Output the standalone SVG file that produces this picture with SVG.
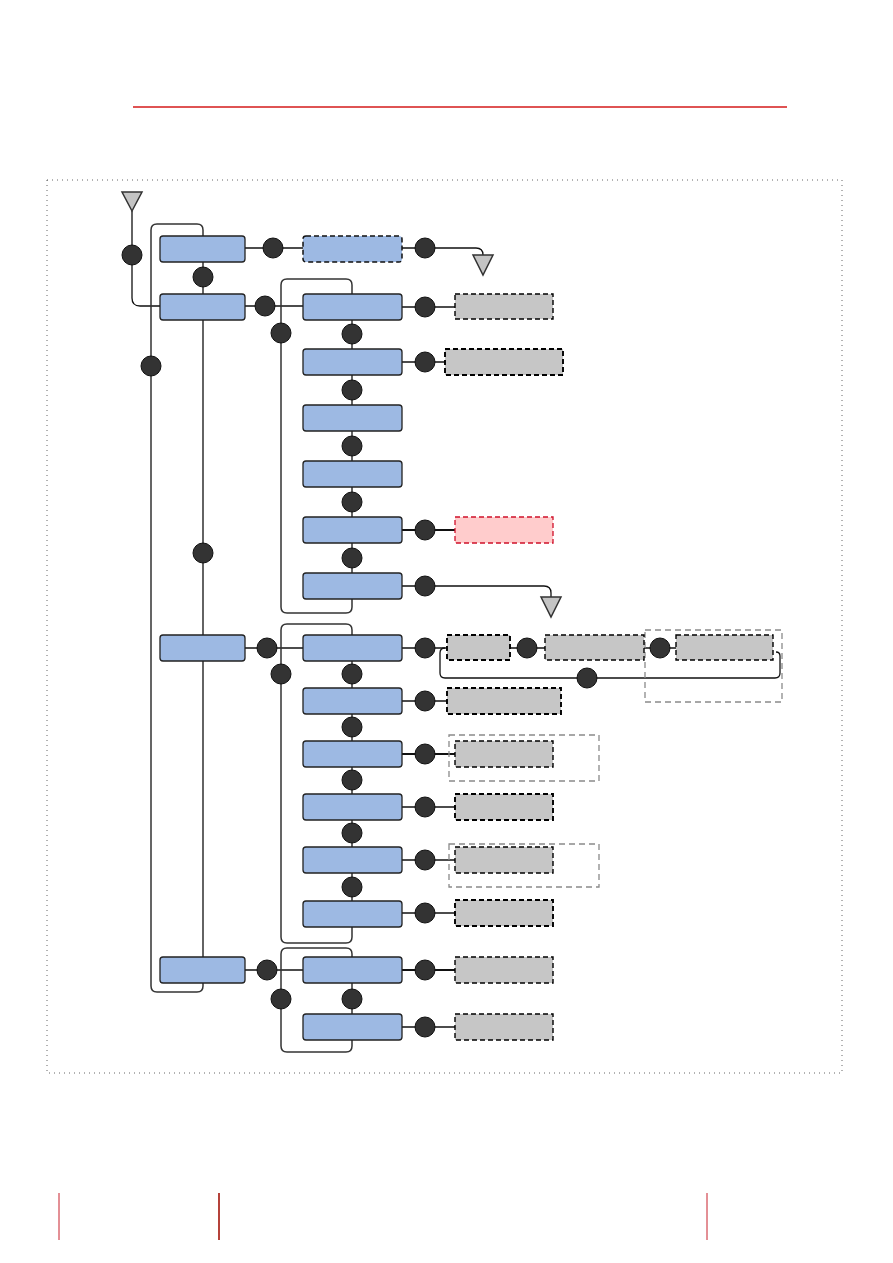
<svg xmlns="http://www.w3.org/2000/svg" width="893" height="1263" viewBox="0 0 893 1263">
<style>
.bx{fill:#9db9e3;stroke:#222;stroke-width:1.3}
.bxd{fill:#9db9e3;stroke:#111;stroke-width:1.5;stroke-dasharray:5 3}
.gr{fill:#c6c6c6;stroke:#000;stroke-width:1.4;stroke-dasharray:5 3}
.grk{fill:#c6c6c6;stroke:#000;stroke-width:1.9;stroke-dasharray:5 3}
.pk{fill:#ffcccc;stroke:#d0102a;stroke-width:1.3;stroke-dasharray:5 3}
.og{fill:none;stroke:#8a8a8a;stroke-width:1.3;stroke-dasharray:6 4}
.ln{fill:none;stroke:#111;stroke-width:1.3}
.lt{fill:none;stroke:#111;stroke-width:2.2}
.lp{fill:none;stroke:#333;stroke-width:1.5}
.c{fill:#333;stroke:#111;stroke-width:1}
.tri{fill:#c4c4c4;stroke:#333;stroke-width:1.5}
</style>
<rect width="893" height="1263" fill="#fff"/>
<line x1="133" y1="107" x2="787" y2="107" stroke="#d41a1a" stroke-width="1.3"/>
<line x1="59" y1="1193" x2="59" y2="1240" stroke="#c8202c" stroke-width="1"/>
<line x1="219" y1="1193" x2="219" y2="1240" stroke="#b5423a" stroke-width="2"/>
<line x1="707" y1="1193" x2="707" y2="1240" stroke="#c8202c" stroke-width="1"/>
<rect x="47" y="180" width="795" height="893" fill="none" stroke="#666" stroke-width="1" stroke-dasharray="1 4"/>

<g id="connectors">
<path class="ln" d="M132 211 V298 Q132 306 140 306 H160"/>
<path class="ln" d="M245 248 H303"/>
<path class="ln" d="M402 248 H476 Q483 248 483 255"/>
<path class="ln" d="M203 261 V294"/>
<path class="lp" d="M203 236 V230 Q203 224 197 224 H157 Q151 224 151 230 V986 Q151 992 157 992 H197 Q203 992 203 986 V983"/>
<path class="ln" d="M203 319 V635 M203 660 V957"/>
<path class="ln" d="M245 306 H303"/>
<path class="lp" d="M352 294 V285 Q352 279 346 279 H287 Q281 279 281 285 V607 Q281 613 287 613 H346 Q352 613 352 607 V599"/>
<path class="ln" d="M352 319 V573"/>
<path class="ln" d="M402 307 H455"/>
<path class="ln" d="M402 362 H445"/>
<path class="lt" d="M402 530 H455"/>
<path class="ln" d="M402 586 H544 Q551 586 551 593 V597"/>
<path class="ln" d="M245 648 H303"/>
<path class="lp" d="M352 635 V630 Q352 624 346 624 H287 Q281 624 281 630 V937 Q281 943 287 943 H346 Q352 943 352 937 V926"/>
<path class="ln" d="M352 660 V901"/>
<path class="ln" d="M402 648 H447 M510 648 H545 M644 648 H676"/>
<path class="ln" d="M776 652 Q780 652 780 656 V673 Q780 678 775 678 H445 Q440 678 440 673 V653 Q440 648 445 648"/>
<path class="ln" d="M402 701 H447"/>
<path class="lt" d="M402 754 H455"/>
<path class="ln" d="M402 807 H455"/>
<path class="ln" d="M402 860 H455"/>
<path class="ln" d="M402 913 H455"/>
<path class="ln" d="M245 970 H303"/>
<path class="lp" d="M352 957 V954 Q352 948 346 948 H287 Q281 948 281 954 V1046 Q281 1052 287 1052 H346 Q352 1052 352 1046 V1040"/>
<path class="ln" d="M352 983 V1014"/>
<path class="lt" d="M402 970 H455"/>
<path class="ln" d="M402 1027 H455"/>
</g>

<g id="triangles">
<polygon class="tri" points="122,192 142,192 132,211"/>
<polygon class="tri" points="473,255 493,255 483,275"/>
<polygon class="tri" points="541,597 561,597 551,617"/>
</g>

<g id="circles">
<circle class="c" cx="132" cy="255" r="10"/>
<circle class="c" cx="273" cy="248" r="10"/>
<circle class="c" cx="425" cy="248" r="10"/>
<circle class="c" cx="203" cy="277" r="10"/>
<circle class="c" cx="151" cy="366" r="10"/>
<circle class="c" cx="203" cy="553" r="10"/>
<circle class="c" cx="265" cy="306" r="10"/>
<circle class="c" cx="281" cy="333" r="10"/>
<circle class="c" cx="352" cy="334" r="10"/>
<circle class="c" cx="352" cy="390" r="10"/>
<circle class="c" cx="352" cy="446" r="10"/>
<circle class="c" cx="352" cy="502" r="10"/>
<circle class="c" cx="352" cy="558" r="10"/>
<circle class="c" cx="425" cy="307" r="10"/>
<circle class="c" cx="425" cy="362" r="10"/>
<circle class="c" cx="425" cy="530" r="10"/>
<circle class="c" cx="425" cy="586" r="10"/>
<circle class="c" cx="267" cy="648" r="10"/>
<circle class="c" cx="281" cy="674" r="10"/>
<circle class="c" cx="352" cy="674" r="10"/>
<circle class="c" cx="352" cy="727" r="10"/>
<circle class="c" cx="352" cy="780" r="10"/>
<circle class="c" cx="352" cy="833" r="10"/>
<circle class="c" cx="352" cy="887" r="10"/>
<circle class="c" cx="425" cy="648" r="10"/>
<circle class="c" cx="527" cy="648" r="10"/>
<circle class="c" cx="660" cy="648" r="10"/>
<circle class="c" cx="587" cy="678" r="10"/>
<circle class="c" cx="425" cy="701" r="10"/>
<circle class="c" cx="425" cy="754" r="10"/>
<circle class="c" cx="425" cy="807" r="10"/>
<circle class="c" cx="425" cy="860" r="10"/>
<circle class="c" cx="425" cy="913" r="10"/>
<circle class="c" cx="267" cy="970" r="10"/>
<circle class="c" cx="281" cy="999" r="10"/>
<circle class="c" cx="352" cy="999" r="10"/>
<circle class="c" cx="425" cy="970" r="10"/>
<circle class="c" cx="425" cy="1027" r="10"/>
</g>

<g id="level1">
<rect id="nA" class="bx" x="160" y="236" width="85" height="26" rx="3"/>
<rect id="nB" class="bx" x="160" y="294" width="85" height="26" rx="3"/>
<rect id="nC" class="bx" x="160" y="635" width="85" height="26" rx="3"/>
<rect id="nD" class="bx" x="160" y="957" width="85" height="26" rx="3"/>
</g>

<g id="level2">
<rect id="nA1" class="bxd" x="303" y="236" width="99" height="26" rx="3"/>
<rect id="nB1" class="bx" x="303" y="294" width="99" height="26" rx="3"/>
<rect id="nB2" class="bx" x="303" y="349" width="99" height="26" rx="3"/>
<rect id="nB3" class="bx" x="303" y="405" width="99" height="26" rx="3"/>
<rect id="nB4" class="bx" x="303" y="461" width="99" height="26" rx="3"/>
<rect id="nB5" class="bx" x="303" y="517" width="99" height="26" rx="3"/>
<rect id="nB6" class="bx" x="303" y="573" width="99" height="26" rx="3"/>
<rect id="nC1" class="bx" x="303" y="635" width="99" height="26" rx="3"/>
<rect id="nC2" class="bx" x="303" y="688" width="99" height="26" rx="3"/>
<rect id="nC3" class="bx" x="303" y="741" width="99" height="26" rx="3"/>
<rect id="nC4" class="bx" x="303" y="794" width="99" height="26" rx="3"/>
<rect id="nC5" class="bx" x="303" y="847" width="99" height="26" rx="3"/>
<rect id="nC6" class="bx" x="303" y="901" width="99" height="26" rx="3"/>
<rect id="nD1" class="bx" x="303" y="957" width="99" height="26" rx="3"/>
<rect id="nD2" class="bx" x="303" y="1014" width="99" height="26" rx="3"/>
</g>

<g id="level3">
<rect id="gB1" class="gr" x="455" y="294" width="98" height="25"/>
<rect id="gB2" class="grk" x="445" y="349" width="118" height="26"/>
<rect id="pB5" class="pk" x="455" y="517" width="98" height="26"/>
<rect id="oC1" class="og" x="645" y="630" width="137" height="72"/>
<rect id="gC1a" class="grk" x="447" y="635" width="63" height="25"/>
<rect id="gC1b" class="gr" x="545" y="635" width="99" height="25"/>
<rect id="gC1c" class="gr" x="676" y="635" width="97" height="25"/>
<rect id="gC2" class="grk" x="447" y="688" width="114" height="26"/>
<rect id="oC3" class="og" x="449" y="735" width="150" height="46"/>
<rect id="gC3" class="gr" x="455" y="741" width="98" height="26"/>
<rect id="gC4" class="grk" x="455" y="794" width="98" height="26"/>
<rect id="oC5" class="og" x="449" y="844" width="150" height="43"/>
<rect id="gC5" class="gr" x="455" y="847" width="98" height="26"/>
<rect id="gC6" class="grk" x="455" y="900" width="98" height="26"/>
<rect id="gD1" class="gr" x="455" y="957" width="98" height="26"/>
<rect id="gD2" class="gr" x="455" y="1014" width="98" height="26"/>
</g>
</svg>
